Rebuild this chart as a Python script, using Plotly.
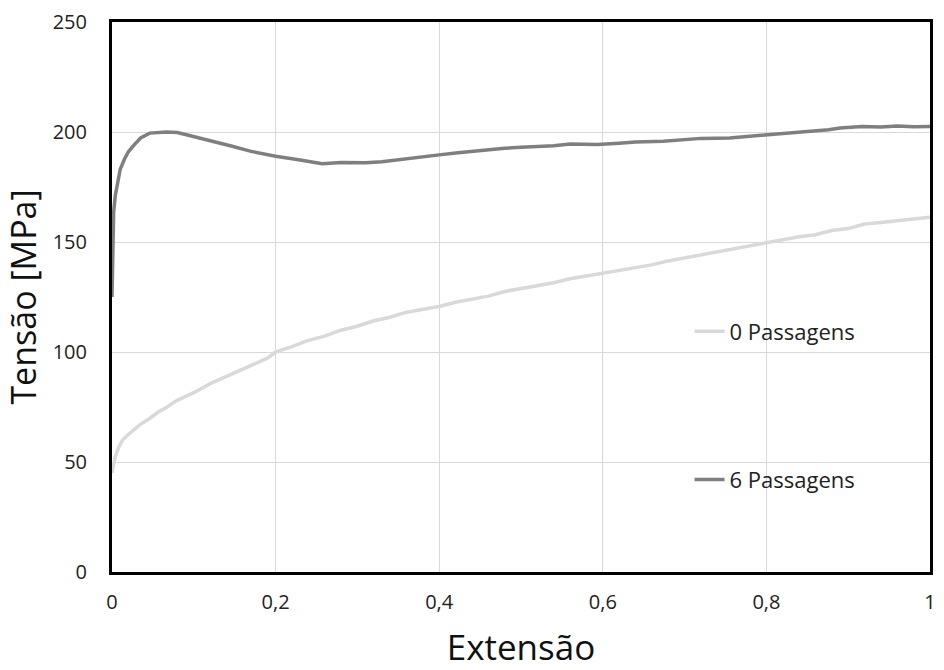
import plotly.graph_objects as go

# 0 Passagens (light grey)
x0 = [0, 0.004, 0.008, 0.013, 0.02, 0.026, 0.035, 0.046, 0.056, 0.067, 0.079, 0.09, 0.10, 0.12, 0.14, 0.15,
      0.17, 0.19, 0.20, 0.22, 0.24, 0.26, 0.28, 0.30, 0.32, 0.34, 0.36, 0.38, 0.40, 0.42, 0.44, 0.46,
      0.48, 0.50, 0.52, 0.54, 0.56, 0.58, 0.60, 0.62, 0.64, 0.66, 0.68, 0.70, 0.72, 0.74, 0.76, 0.78,
      0.80, 0.82, 0.84, 0.86, 0.88, 0.90, 0.92, 0.94, 0.96, 0.98, 1.0]
y0 = [45, 52.4, 56.5, 60, 62.5, 64.4, 67.2, 69.8, 72.6, 74.9, 77.9, 79.8, 81.5, 85.6, 88.9, 90.5,
      93.6, 97.2, 100, 102.4, 105.3, 107.2, 109.9, 111.7, 114.2, 115.8, 118.1, 119.2, 120.7, 122.6, 124.1, 125.4,
      127.5, 128.8, 130.4, 131.5, 133.3, 134.6, 136, 137.1, 138.5, 139.6, 141.4, 142.8, 143.9, 145.6, 146.7, 148.2,
      149.5, 151.2, 152.4, 153.3, 155.2, 156.1, 158.2, 158.9, 159.7, 160.6, 161.2]

# 6 Passagens (dark grey)
x6 = [0, 0.0005, 0.001, 0.002, 0.004, 0.007, 0.01, 0.015, 0.02, 0.026, 0.035, 0.046, 0.056, 0.067, 0.08, 0.09,
      0.107, 0.127, 0.147, 0.17, 0.20, 0.23, 0.257, 0.28, 0.31, 0.33, 0.35, 0.38, 0.40, 0.42, 0.44, 0.46,
      0.48, 0.50, 0.52, 0.54, 0.56, 0.593, 0.62, 0.64, 0.674, 0.70, 0.72, 0.755, 0.78, 0.80, 0.82, 0.84,
      0.876, 0.89, 0.917, 0.94, 0.96, 0.98, 1.0]
y6 = [125, 140, 152, 163.5, 171, 178, 183, 187.5, 191, 193.7, 197.3, 199.5, 199.8, 200, 199.8, 198.9,
      197.3, 195.6, 193.5, 191.2, 189, 187.3, 185.6, 186.1, 186, 186.5, 187.5, 188.7, 189.6, 190.5, 191.3, 191.9,
      192.6, 193.1, 193.4, 193.8, 194.5, 194.3, 194.9, 195.4, 195.8, 196.6, 197.1, 197.3, 198.1, 198.4, 199.0, 199.8,
      201.0, 201.8, 202.5, 202.3, 202.7, 202.4, 202.5]

names = ["0 Passagens", "6 Passagens"]
colors = ["#d9d9d9", "#7f7f7f"]
font = "Open Sans, Noto Sans, sans-serif"

fig = go.Figure()
fig.add_trace(go.Scatter(x=x0, y=y0, mode="lines", name=names[0], showlegend=True,
                         line=dict(color=colors[0], width=3.5), legend="legend"))
fig.add_trace(go.Scatter(x=x6, y=y6, mode="lines", name=names[1], showlegend=True,
                         line=dict(color=colors[1], width=3.5), legend="legend2"))

axis_common = dict(showline=True, linecolor="black", linewidth=3, mirror=True,
                   showgrid=True, gridcolor="#d9d9d9", gridwidth=1, zeroline=False,
                   ticks="outside", tickcolor="rgba(0,0,0,0)",
                   tickfont=dict(family=font, size=20, color="#222222"))

fig.update_layout(
    width=944, height=670,
    margin=dict(l=112, r=8, t=17, b=95),
    plot_bgcolor="white", paper_bgcolor="white",
    font=dict(family=font),
    showlegend=True,
    xaxis=dict(range=[0, 1], tickvals=[0, 0.2, 0.4, 0.6, 0.8, 1],
               ticktext=["0", "0,2", "0,4", "0,6", "0,8", "1"], ticklen=10,
               title=dict(text="Extensão", font=dict(family=font, size=35, color="#111111"), standoff=22),
               **axis_common),
    yaxis=dict(range=[0, 250], tickvals=[0, 50, 100, 150, 200, 250], ticklen=18,
               title=dict(text="Tensão [MPa]", font=dict(family=font, size=34, color="#111111"), standoff=8),
               **axis_common),
    legend=dict(x=0.706, y=0.4375, xanchor="left", yanchor="middle", bgcolor="rgba(0,0,0,0)",
                font=dict(family=font, size=22, color="#222222")),
    legend2=dict(x=0.706, y=0.168, xanchor="left", yanchor="middle", bgcolor="rgba(0,0,0,0)",
                 font=dict(family=font, size=22, color="#222222")),
)

fig.write_html("out.html")
